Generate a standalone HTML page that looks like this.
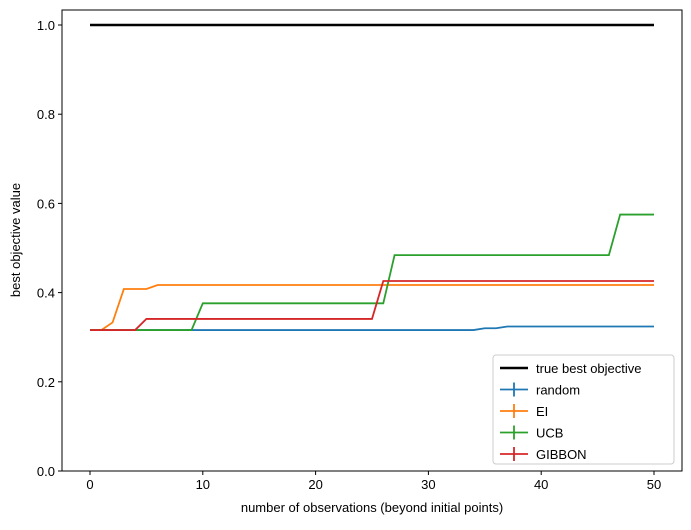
<!DOCTYPE html>
<html><head><meta charset="utf-8"><style>
body{margin:0;background:#fff;font-family:"Liberation Sans",sans-serif}
svg text{font-family:"Liberation Sans",sans-serif;font-size:13px;fill:#000}
</style></head><body>
<svg id="c" width="691" height="525"></svg>
<script>
const xTicks=[0,10,20,30,40,50];
const yTicks=[0.0,0.2,0.4,0.6,0.8,1.0];
const trueBest=[1.0,1.0];
const randomVals=[];for(let i=0;i<=50;i++)randomVals.push(i<35?0.316:(i<37?0.320:0.324));
const eiVals=[0.316,0.316,0.333,0.408,0.408,0.408];while(eiVals.length<51)eiVals.push(0.417);
const ucbVals=[];for(let i=0;i<=50;i++)ucbVals.push(i<10?0.316:(i<27?0.376:(i<47?0.484:0.575)));
const gibbonVals=[];for(let i=0;i<=50;i++)gibbonVals.push(i<5?0.316:(i<26?0.341:0.426));
const series=[["random",randomVals,"#1f77b4"],["EI",eiVals,"#ff7f0e"],["UCB",ucbVals,"#2ca02c"],["GIBBON",gibbonVals,"#d62728"]];
const L=62,R=682,T=10,B=471;
const X=v=>90+v*(654-90)/50, Y=v=>471-v*446;
const NS="http://www.w3.org/2000/svg",svg=document.getElementById('c');
function mk(t,a,p){const e=document.createElementNS(NS,t);for(const k in a)e.setAttribute(k,a[k]);(p||svg).appendChild(e);return e;}
let e;
e=mk('rect',{x:L,y:T,width:R-L,height:B-T,fill:'none',stroke:'#000','stroke-width':1});


xTicks.forEach(t=>{mk('line',{x1:X(t),x2:X(t),y1:B,y2:B+4,stroke:'#000'});
 e=mk('text',{x:X(t),y:B+18,'text-anchor':'middle'});e.textContent=t;
 
 });
yTicks.forEach(t=>{mk('line',{x1:L-4,x2:L,y1:Y(t),y2:Y(t),stroke:'#000'});
 e=mk('text',{x:L-7,y:Y(t)+5,'text-anchor':'end'});e.textContent=t.toFixed(1);
 
 });
e=mk('text',{x:372,y:512,'text-anchor':'middle'});e.textContent='number of observations (beyond initial points)';


e=mk('text',{x:20,y:240,'text-anchor':'middle',transform:'rotate(-90 20 240)'});e.textContent='best objective value';


e=mk('line',{x1:X(0),x2:X(50),y1:Y(trueBest[0]),y2:Y(trueBest[1]),stroke:'#000','stroke-width':2.5});


series.forEach(s=>{e=mk('polyline',{points:s[1].map((v,i)=>X(i)+','+Y(v)).join(' '),fill:'none',stroke:s[2],'stroke-width':1.8});
 
 });
const lg=mk('g',{});


mk('rect',{x:493,y:355,width:181,height:109,rx:3,fill:'#fff',stroke:'#ccc'},lg);
const entries=[["true best objective","#000"]].concat(series.map(s=>[s[0],s[2]]));
entries.forEach((en,i)=>{const y=368+i*21.5;
 if(i==0)mk('line',{x1:500,x2:528,y1:y,y2:y,stroke:'#000','stroke-width':2.5},lg);
 else{mk('line',{x1:500,x2:528,y1:y,y2:y,stroke:en[1],'stroke-width':1.8},lg);mk('line',{x1:514,x2:514,y1:y-7,y2:y+7,stroke:en[1],'stroke-width':1.8},lg);}
 e=mk('text',{x:536,y:y+5},lg);e.textContent=en[0];
 
 });
</script>
</body></html>
